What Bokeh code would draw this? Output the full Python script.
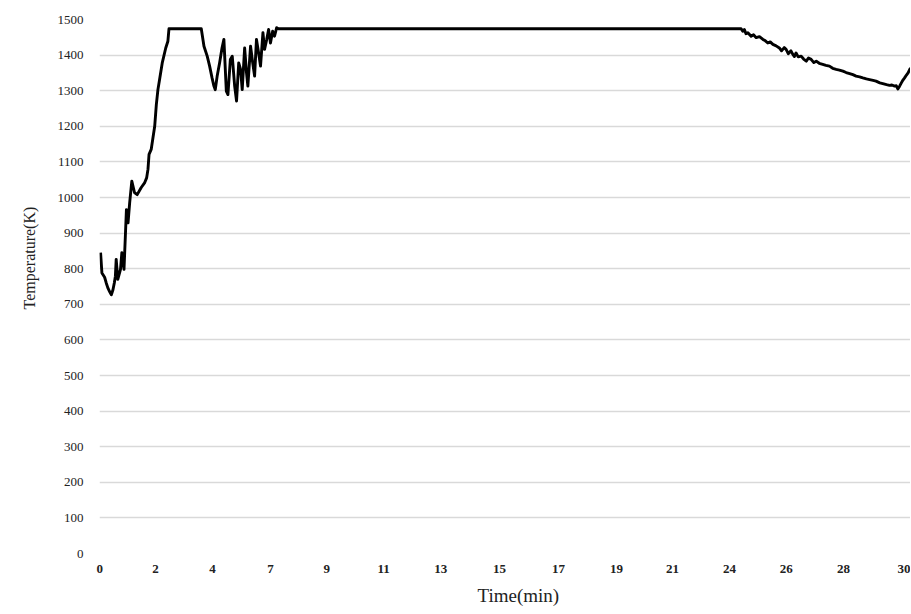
from bokeh.plotting import figure
from bokeh.models import Range1d, FixedTicker, Title
from bokeh.embed import file_html
from bokeh.resources import INLINE

# Time (min) and temperature (K)
time_min = [
    0.11, 0.16, 0.26, 0.32, 0.38, 0.45, 0.51, 0.57, 0.62, 0.66, 0.69, 0.75, 0.85, 0.90, 0.98,
    1.03, 1.07, 1.13, 1.19, 1.27, 1.37, 1.47, 1.62, 1.75, 1.82, 1.87, 1.91, 1.99, 2.05, 2.12, 2.18, 2.24,
    2.30, 2.40, 2.53, 2.61, 2.65,
    3.85, 3.95, 4.07, 4.16, 4.25, 4.32, 4.37, 4.44, 4.53, 4.62, 4.69, 4.78, 4.84, 4.93, 5.00,
    5.09, 5.16, 5.24, 5.31, 5.37, 5.46, 5.53, 5.58, 5.68, 5.76, 5.83, 5.90, 5.98, 6.05,
    6.14, 6.20, 6.28, 6.35, 6.42, 6.50, 6.57, 6.65, 6.72,
    23.90, 23.96, 24.02, 24.08, 24.15, 24.21, 24.27, 24.36, 24.46, 24.58, 24.71, 24.80, 24.89, 24.98,
    25.08, 25.20, 25.32, 25.40, 25.50, 25.57, 25.65, 25.75, 25.82, 25.88, 25.94, 26.02, 26.13, 26.22,
    26.32, 26.40, 26.50, 26.60, 26.69, 26.80, 26.93, 27.05, 27.18, 27.30, 27.43, 27.55, 27.68, 27.80,
    27.93, 28.05, 28.17, 28.30, 28.42, 28.55, 28.67, 28.80, 28.91, 29.05, 29.16, 29.30, 29.41, 29.50,
    29.60, 29.66, 29.72, 29.78, 29.85, 29.91, 29.97, 30.04, 30.10, 30.19,
]
temperature_k = [
    845, 788, 776, 760, 746, 735, 727, 741, 760, 779, 826, 770, 798, 845, 798,
    891, 966, 929, 985, 1046, 1014, 1008, 1028, 1042, 1055, 1079, 1121, 1135, 1165, 1200, 1260, 1303,
    1331, 1378, 1420, 1439, 1474,
    1474, 1425, 1397, 1369, 1336, 1313, 1303, 1341, 1378, 1420, 1444, 1299, 1289, 1388, 1397,
    1313, 1271, 1378, 1360, 1303, 1420, 1350, 1313, 1425, 1378, 1341, 1444, 1406, 1369,
    1463, 1416, 1444, 1472, 1434, 1467, 1453, 1477, 1474,
    1474, 1467, 1472, 1460, 1463, 1458, 1453, 1457, 1449, 1452, 1444, 1440, 1434, 1437,
    1430, 1426, 1420, 1412, 1421, 1416, 1404, 1412, 1402, 1396, 1406, 1395, 1397, 1389,
    1383, 1392, 1388, 1379, 1383, 1377, 1374, 1371, 1369, 1363, 1360, 1358, 1355, 1351,
    1348, 1345, 1341, 1339, 1336, 1333, 1331, 1329, 1327, 1322, 1320, 1317, 1315, 1316,
    1313, 1314, 1305, 1312, 1322, 1330, 1336, 1344, 1350, 1364,
]

# x tick positions (min) and their printed labels
tick_pos = [0.08, 2.15, 4.27, 6.42, 8.51, 10.62, 12.74, 14.93, 17.12, 19.27, 21.35, 23.47, 25.58, 27.70, 30.04]
tick_labels = ["0", "2", "4", "7", "9", "11", "13", "15", "17", "19", "21", "24", "26", "28", "30"]
y_ticks = list(range(0, 1501, 100))

FONT = "Liberation Serif"

p = figure(width=910, height=613, output_backend="svg", toolbar_location=None,
           x_range=Range1d(0.07, 30.19), y_range=Range1d(0, 1500),
           min_border_left=99, min_border_right=0, min_border_top=19, min_border_bottom=60)
p.outline_line_color = None
p.background_fill_color = "white"
p.border_fill_color = "white"

p.line(time_min, temperature_k, line_color="black", line_width=2.9, line_join="round")

p.xgrid.grid_line_color = None
p.ygrid.grid_line_color = "#d9d9d9"
p.ygrid.grid_line_width = 1.3
p.yaxis.ticker = FixedTicker(ticks=y_ticks)
p.xaxis.ticker = FixedTicker(ticks=tick_pos)
p.xaxis.major_label_overrides = {t: l for t, l in zip(tick_pos, tick_labels)}

for ax in (p.xaxis[0], p.yaxis[0]):
    ax.axis_line_color = None
    ax.major_tick_line_color = None
    ax.minor_tick_line_color = None
    ax.major_tick_out = 0
    ax.major_tick_in = 0
    ax.major_label_text_font = FONT
    ax.major_label_text_font_size = "13px"
    ax.major_label_text_color = "#222222"

p.xaxis.major_label_text_font_style = "bold"
p.xaxis.major_label_standoff = 11
p.yaxis.major_label_standoff = 16

p.add_layout(Title(text="Temperature(K)", align="left", offset=244, standoff=34,
                   text_font=FONT, text_font_size="16px", text_font_style="normal",
                   text_color="#222222"), "left")
p.add_layout(Title(text="Time(min)", align="left", offset=378, standoff=15,
                   text_line_height=0.8,
                   text_font=FONT, text_font_size="19px", text_font_style="normal",
                   text_color="#222222"), "below")

open("out.html", "w").write(file_html(p, INLINE))
